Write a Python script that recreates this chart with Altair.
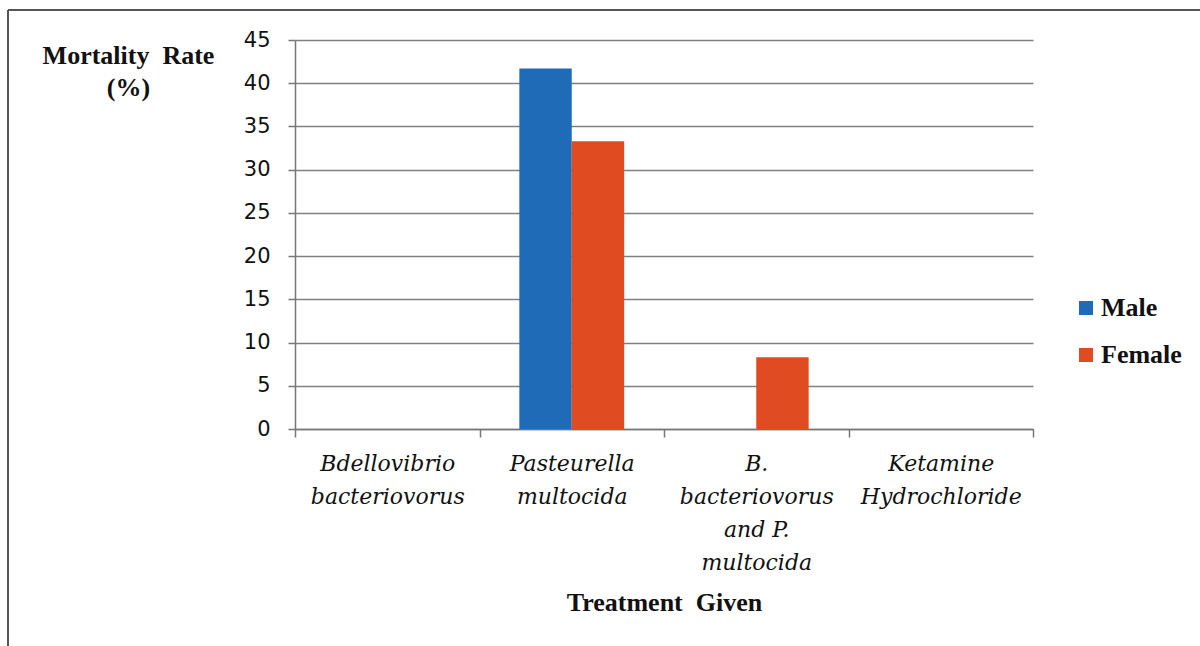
import altair as alt
import pandas as pd

treatments = [
    "Bdellovibrio bacteriovorus",
    "Pasteurella multocida",
    "B. bacteriovorus and P. multocida",
    "Ketamine Hydrochloride",
]
label_lines = [
    ["Bdellovibrio", "bacteriovorus"],
    ["Pasteurella", "multocida"],
    ["B.", "bacteriovorus", "and P.", "multocida"],
    ["Ketamine", "Hydrochloride"],
]
sexes = ["Male", "Female"]
male = [0, 41.7, 0, 0]
female = [0, 33.3, 8.3, 0]
colors = ["#1F6BB8", "#E04B22"]
y_ticks = [0, 5, 10, 15, 20, 25, 30, 35, 40, 45]

rows = []
for i, t in enumerate(treatments):
    rows.append({"Treatment": t, "Sex": "Male", "Rate": male[i]})
    rows.append({"Treatment": t, "Sex": "Female", "Rate": female[i]})
df = pd.DataFrame(rows)

label_map = "{" + ",".join(
    "'" + t + "':[" + ",".join("'" + s + "'" for s in lines) + "]"
    for t, lines in zip(treatments, label_lines)
) + "}"

bars = alt.Chart(df).mark_bar().encode(
    x=alt.X(
        "Treatment:N",
        sort=treatments,
        scale=alt.Scale(paddingInner=0, paddingOuter=0),
        axis=alt.Axis(
            title="Treatment\u00a0\u00a0Given",
            titleFont="Liberation Serif",
            titleFontSize=26,
            titleFontWeight="bold",
            titleColor="#111",
            titlePadding=16,
            labelExpr=label_map + "[datum.label]",
            labelFont="DejaVu Serif",
            labelFontStyle="italic",
            labelFontSize=22,
            labelColor="#111",
            labelLineHeight=33,
            labelAngle=0,
            labelPadding=16,
            labelBaseline="top",
            tickBand="extent",
            tickSize=8,
            tickColor="#777",
            tickWidth=1.5,
            domainColor="#777",
            domainWidth=1.5,
            grid=False,
        ),
    ),
    xOffset=alt.XOffset("Sex:N", sort=sexes, scale=alt.Scale(paddingOuter=0.76, paddingInner=0)),
    y=alt.Y(
        "Rate:Q",
        scale=alt.Scale(domain=[0, 45], nice=False),
        axis=alt.Axis(
            values=y_ticks,
            title=["Mortality\u00a0\u00a0Rate", "(%)"],
            titleAngle=0,
            titleFont="Liberation Serif",
            titleFontSize=26,
            titleFontWeight="bold",
            titleColor="#111",
            titleAlign="center",
            titleBaseline="top",
            titleX=-167,
            titleY=2,
            titleLineHeight=32,
            labelFont="DejaVu Sans",
            labelFontSize=21,
            labelColor="#111",
            labelPadding=18,
            tickSize=7,
            tickColor="#777",
            tickWidth=1.5,
            domainColor="#777",
            domainWidth=1.5,
            gridColor="#808080",
            gridWidth=1.5,
        ),
    ),
    color=alt.Color(
        "Sex:N",
        sort=sexes,
        scale=alt.Scale(domain=sexes, range=colors),
        legend=alt.Legend(
            title=None,
            orient="none",
            legendX=778,
            legendY=255,
            symbolType="square",
            symbolSize=196,
            symbolStrokeWidth=0,
            labelFont="Liberation Serif",
            labelFontSize=26,
            labelFontWeight="bold",
            labelColor="#111",
            labelOffset=2,
            rowPadding=21,
        ),
    ),
)

frame_top = alt.Chart(df).mark_rule(color="#555", strokeWidth=2).encode(
    x=alt.value(-287), x2=alt.value(910), y=alt.value(-30)
)
frame_left = alt.Chart(df).mark_rule(color="#555", strokeWidth=2).encode(
    x=alt.value(-287), y=alt.value(-30), y2=alt.value(610)
)

chart = alt.layer(bars, frame_top, frame_left).properties(
    width=738,
    height=389,
    autosize=alt.AutoSizeParams(type="none"),
    padding={"left": 295, "top": 40, "right": 167, "bottom": 217},
    background="white",
).configure_view(stroke=None)

chart.save("out.html", embed_options={"renderer": "svg", "actions": False})
